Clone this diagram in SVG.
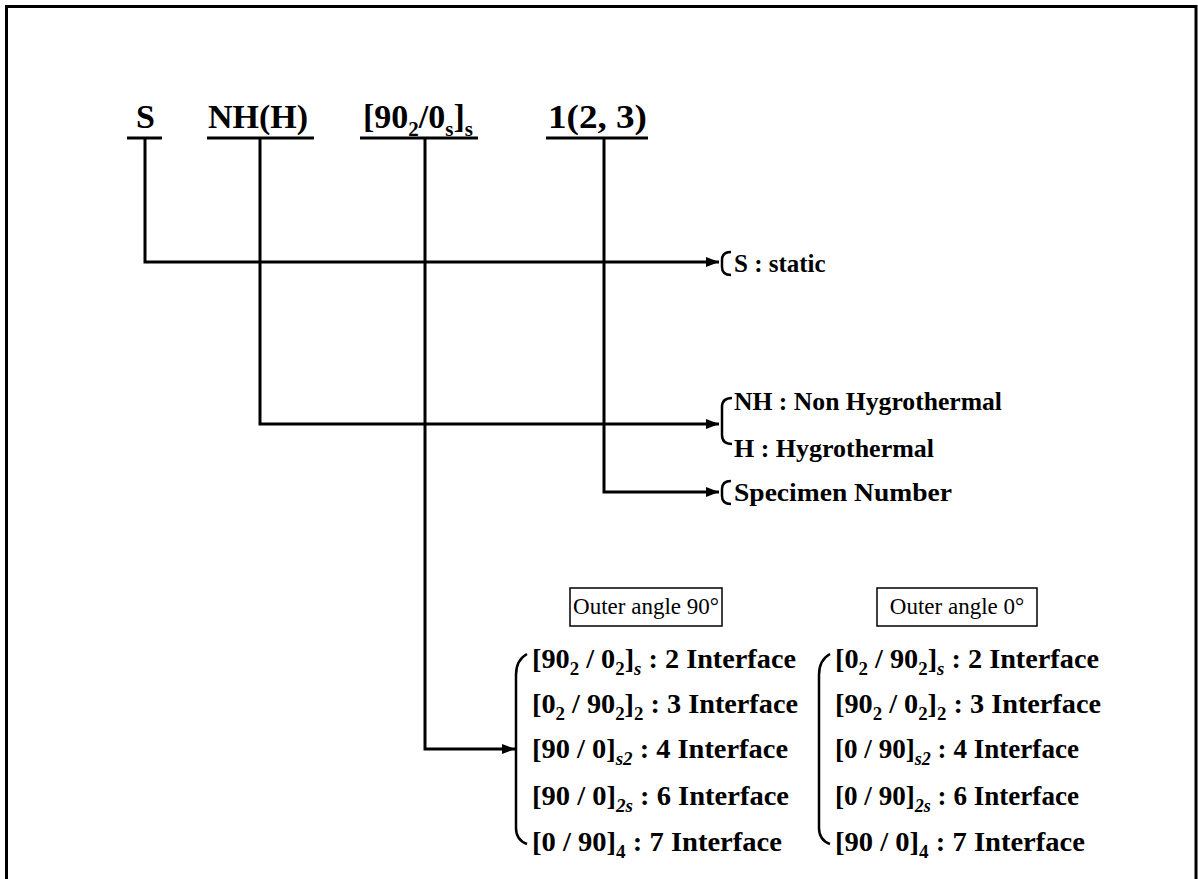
<svg xmlns="http://www.w3.org/2000/svg" width="1198" height="879" viewBox="0 0 1198 879">
<style>
.lbl{font-family:"Liberation Serif","Times New Roman",serif;font-weight:bold;fill:#000}
.top{font-size:34px}
.def{font-size:25px}
.row{font-size:27px}
.sub{font-size:18px}
.box{font-family:"Liberation Serif","Times New Roman",serif;font-size:23px;fill:#000}
.ln{fill:none;stroke:#000;stroke-width:3}
.br{fill:none;stroke:#000;stroke-width:2.5}
</style>
<defs>
<marker id="ah" markerUnits="userSpaceOnUse" markerWidth="14" markerHeight="12" refX="13" refY="6" orient="auto">
<path d="M0,1 L13,6 L0,11 Z" fill="#000"/>
</marker>
</defs>
<rect x="0" y="0" width="1198" height="879" fill="#fff"/>
<path d="M6.5,885 V6.5 H1196 V885" fill="none" stroke="#000" stroke-width="3"/>

<g id="code-S">
<text class="lbl top" x="136" y="128">S</text>
<line class="ln" x1="127" y1="138" x2="162" y2="138"/>
</g>
<g id="code-NH">
<text class="lbl top" x="208" y="128" textLength="100" lengthAdjust="spacingAndGlyphs">NH(H)</text>
<line class="ln" x1="207" y1="138" x2="314" y2="138"/>
</g>
<g id="code-layup">
<text class="lbl top" x="363" y="128">[90<tspan font-size="21" dy="8">2</tspan><tspan dy="-8">/0</tspan><tspan font-size="21" dy="8">s</tspan><tspan dy="-8">]</tspan><tspan font-size="21" dy="8">s</tspan></text>
<line class="ln" x1="360" y1="138" x2="478" y2="138"/>
</g>
<g id="code-num">
<text class="lbl top" x="548" y="128" textLength="99" lengthAdjust="spacingAndGlyphs">1(2, 3)</text>
<line class="ln" x1="546" y1="138" x2="648" y2="138"/>
</g>

<g id="connectors">
<path class="ln" d="M145,138 V262 H719" marker-end="url(#ah)"/>
<path class="ln" d="M260,138 V424 H719" marker-end="url(#ah)"/>
<path class="ln" d="M604,138 V492 H719" marker-end="url(#ah)"/>
<path class="ln" d="M425,138 V749 H515" marker-end="url(#ah)"/>
</g>

<g id="def-S">
<path class="br" d="M731,252 Q722,252 722,260 V267 Q722,275 731,275"/>
<text class="lbl def" x="734" y="272">S : static</text>
</g>
<g id="def-NH">
<path class="br" d="M732,398 Q722,398 722,407 V435 Q722,444 732,444"/>
<text class="lbl def" x="734" y="410" textLength="268" lengthAdjust="spacingAndGlyphs">NH : Non Hygrothermal</text>
<text class="lbl def" x="734" y="457" textLength="200" lengthAdjust="spacingAndGlyphs">H : Hygrothermal</text>
</g>
<g id="def-num">
<path class="br" d="M731,481 Q722,481 722,489 V496 Q722,504 731,504"/>
<text class="lbl def" x="734" y="501" textLength="218" lengthAdjust="spacingAndGlyphs">Specimen Number</text>
</g>

<g id="box90">
<rect x="570" y="588" width="152" height="38" fill="#fff" stroke="#000" stroke-width="1.5"/>
<text class="box" x="646" y="614" text-anchor="middle">Outer angle 90°</text>
</g>
<g id="box0">
<rect x="877" y="588" width="160" height="38" fill="#fff" stroke="#000" stroke-width="1.5"/>
<text class="box" x="957" y="614" text-anchor="middle">Outer angle 0°</text>
</g>

<g id="list90">
<path class="br" d="M527,654 Q516,660 516,675 V828 Q516,840 527,844"/>
<text class="lbl row" x="532" y="668" textLength="264" lengthAdjust="spacingAndGlyphs">[90<tspan class="sub" dy="7">2</tspan><tspan dy="-7"> / 0</tspan><tspan class="sub" dy="7">2</tspan><tspan dy="-7">]</tspan><tspan class="sub" dy="7" font-style="italic">s</tspan><tspan dy="-7"> : 2 Interface</tspan></text>
<text class="lbl row" x="532" y="713" textLength="266" lengthAdjust="spacingAndGlyphs">[0<tspan class="sub" dy="7">2</tspan><tspan dy="-7"> / 90</tspan><tspan class="sub" dy="7">2</tspan><tspan dy="-7">]</tspan><tspan class="sub" dy="7">2</tspan><tspan dy="-7"> : 3 Interface</tspan></text>
<text class="lbl row" x="532" y="758" textLength="256" lengthAdjust="spacingAndGlyphs">[90 / 0]<tspan class="sub" dy="7" font-style="italic">s2</tspan><tspan dy="-7"> : 4 Interface</tspan></text>
<text class="lbl row" x="532" y="805" textLength="257" lengthAdjust="spacingAndGlyphs">[90 / 0]<tspan class="sub" dy="7" font-style="italic">2s</tspan><tspan dy="-7"> : 6 Interface</tspan></text>
<text class="lbl row" x="532" y="851" textLength="250" lengthAdjust="spacingAndGlyphs">[0 / 90]<tspan class="sub" dy="7">4</tspan><tspan dy="-7"> : 7 Interface</tspan></text>
</g>

<g id="list0">
<path class="br" d="M830,654 Q819,660 819,675 V828 Q819,840 830,844"/>
<text class="lbl row" x="835" y="668" textLength="264" lengthAdjust="spacingAndGlyphs">[0<tspan class="sub" dy="7">2</tspan><tspan dy="-7"> / 90</tspan><tspan class="sub" dy="7">2</tspan><tspan dy="-7">]</tspan><tspan class="sub" dy="7" font-style="italic">s</tspan><tspan dy="-7"> : 2 Interface</tspan></text>
<text class="lbl row" x="835" y="713" textLength="266" lengthAdjust="spacingAndGlyphs">[90<tspan class="sub" dy="7">2</tspan><tspan dy="-7"> / 0</tspan><tspan class="sub" dy="7">2</tspan><tspan dy="-7">]</tspan><tspan class="sub" dy="7">2</tspan><tspan dy="-7"> : 3 Interface</tspan></text>
<text class="lbl row" x="835" y="758" textLength="244" lengthAdjust="spacingAndGlyphs">[0 / 90]<tspan class="sub" dy="7" font-style="italic">s2</tspan><tspan dy="-7"> : 4 Interface</tspan></text>
<text class="lbl row" x="835" y="805" textLength="244" lengthAdjust="spacingAndGlyphs">[0 / 90]<tspan class="sub" dy="7" font-style="italic">2s</tspan><tspan dy="-7"> : 6 Interface</tspan></text>
<text class="lbl row" x="835" y="851" textLength="250" lengthAdjust="spacingAndGlyphs">[90 / 0]<tspan class="sub" dy="7">4</tspan><tspan dy="-7"> : 7 Interface</tspan></text>
</g>
</svg>
